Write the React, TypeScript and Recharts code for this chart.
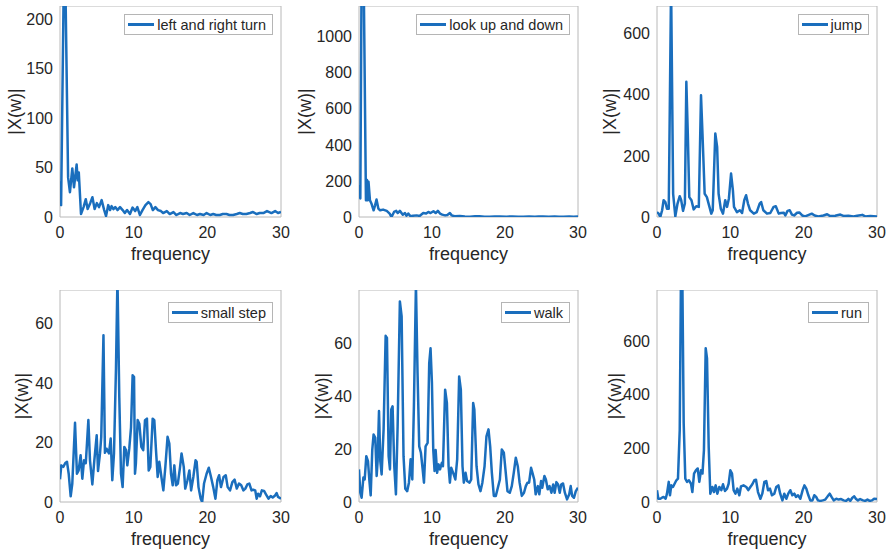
import React from "react";
import { LineChart, Line, XAxis, YAxis, ReferenceArea, Legend } from "recharts";

// spectra, one pair of arrays per activity
const freqTicks = [0, 10, 20, 30];

const turnFreq = [
  0, 0.15, 0.5, 0.75, 1.1, 1.35, 1.67, 1.9, 2.26, 2.4,
  2.55, 2.85, 3.2, 3.5, 3.75, 4.1, 4.4, 4.7, 5.0, 5.3,
  5.65, 6.0, 6.25, 6.55, 6.8, 7.0, 7.25, 7.5, 7.8, 8.15,
  8.5, 8.8, 9.1, 9.5, 9.85, 10.2, 10.5, 10.85, 11.2, 11.6,
  12.0, 12.3, 12.6, 12.95, 13.3, 13.7, 14.0, 14.5, 14.9, 15.4,
  15.8, 16.3, 16.7, 17.2, 17.6, 18.1, 18.6, 19.0, 19.5, 19.9,
  20.4, 20.8, 21.2, 21.7, 22.1, 22.6, 23.0, 23.5, 24.0, 24.4,
  24.8, 25.3, 25.8, 26.2, 26.7, 27.1, 27.6, 28.1, 28.7, 29.2,
  29.6, 30,
];
const turnMag = [
  36, 12, 230, 225, 40, 25, 49, 30, 53, 37,
  45, 3, 10, 18, 8, 14, 20, 8, 14, 10,
  17, 7, 1, 12, 7, 11, 8, 10, 7, 10,
  7, 4, 7, 3, 9.5, 6, 10, 2, 7, 12,
  15, 13, 7, 10, 7, 6, 4, 6, 3, 5,
  2, 4, 3, 4, 2, 4, 2, 3, 2, 4,
  2, 3, 2, 2, 3, 3, 2, 2, 3, 4,
  3, 3, 4, 5, 3, 4, 4, 6, 4, 6,
  4, 5,
];
const turnTicks = [0, 50, 100, 150, 200];

const lookFreq = [
  0, 0.18, 0.35, 0.65, 0.95, 1.1, 1.2, 1.3, 1.5, 1.7,
  2.0, 2.2, 2.4, 2.65, 2.9, 3.3, 3.8, 4.2, 4.45, 4.8,
  5.1, 5.3, 5.6, 6.0, 6.3, 6.5, 6.75, 7.05, 7.4, 7.9,
  8.3, 8.8, 9.2, 9.5, 9.8, 10.2, 10.5, 10.8, 11.1, 11.4,
  11.8, 12.1, 12.45, 12.7, 13.1, 13.8, 14.5, 15.2, 15.9, 16.5,
  17.2, 17.9, 18.6, 19.3, 20.2, 21.0, 21.8, 22.5, 23.3, 24.1,
  24.6, 25.2, 26.0, 26.8, 27.4, 28.0, 28.8, 29.4, 30,
];
const lookMag = [
  178, 103, 1300, 1300, 93, 205, 93, 196, 93, 75,
  37, 65, 97, 47, 37, 41, 34, 19, 0, 28,
  34, 22, 34, 13, 22, 7, 19, 4, 7, 9,
  6, 22, 19, 28, 22, 32, 22, 34, 19, 13,
  9, 11, 22, 9, 4, 6, 3, 2, 4, 4,
  2, 1, 3, 3, 2, 3, 2, 2, 3, 2,
  3, 3, 2, 3, 2, 2, 3, 2, 3,
];
const lookTicks = [0, 200, 400, 600, 800, 1000];

const jumpFreq = [
  0, 0.23, 0.45, 0.7, 0.9, 1.14, 1.36, 1.6, 1.92, 2.2,
  2.5, 2.8, 3.1, 3.3, 3.55, 3.8, 4.0, 4.2, 4.4, 4.7,
  5.0, 5.35, 5.7, 6.0, 6.2, 6.5, 6.8, 7.1, 7.4, 7.6,
  7.95, 8.2, 8.4, 8.7, 9.0, 9.3, 9.55, 9.8, 10.1, 10.35,
  10.5, 10.9, 11.3, 11.6, 11.9, 12.15, 12.4, 12.7, 13.2, 13.6,
  14.0, 14.2, 14.5, 15.0, 15.45, 15.9, 16.2, 16.6, 16.9, 17.3,
  17.5, 17.8, 18.1, 18.4, 18.7, 19.1, 19.4, 19.8, 20.2, 20.7,
  21.1, 21.5, 22.0, 22.7, 23.2, 23.6, 24.3, 25.0, 25.5, 26.1,
  26.8, 27.3, 28.0, 28.4, 29.1, 30,
];
const jumpMag = [
  16, 11, 0, 22, 55, 49, 27, 27, 760, 76,
  2, 44, 68, 55, 20, 44, 442, 273, 65, 55,
  25, 35, 33, 398, 273, 76, 65, 38, 11, 22,
  273, 229, 76, 27, 11, 55, 33, 60, 142, 87,
  33, 16, 22, 13, 55, 71, 44, 22, 11, 16,
  44, 49, 22, 11, 13, 33, 35, 11, 13, 14,
  5, 20, 22, 8, 5, 14, 15, 5, 2, 7,
  11, 5, 2, 5, 9, 3, 4, 8, 3, 4,
  2, 4, 7, 2, 3, 2,
];
const jumpTicks = [0, 200, 400, 600];

const stepFreq = [
  0, 0.18, 0.45, 0.72, 0.95, 1.18, 1.45, 1.67, 2.04, 2.3,
  2.53, 2.8, 3.03, 3.26, 3.5, 3.85, 4.07, 4.39, 4.66, 4.98,
  5.16, 5.43, 5.6, 5.9, 6.1, 6.33, 6.65, 6.88, 7.1, 7.33,
  7.6, 7.8, 8.05, 8.28, 8.5, 8.73, 8.96, 9.14, 9.4, 9.64,
  9.86, 10.05, 10.18, 10.3, 10.54, 10.77, 11.04, 11.3, 11.54, 11.8,
  12.04, 12.26, 12.58, 12.8, 13.03, 13.26, 13.48, 13.8, 14.03, 14.3,
  14.6, 14.84, 15.07, 15.3, 15.52, 15.75, 16.0, 16.3, 16.5, 16.8,
  17.0, 17.3, 17.56, 17.8, 18.1, 18.4, 18.55, 18.8, 19.1, 19.3,
  19.55, 19.9, 20.2, 20.5, 20.8, 21.1, 21.36, 21.6, 21.85, 22.2,
  22.5, 22.76, 23.08, 23.4, 23.7, 24.0, 24.3, 24.6, 24.9, 25.16,
  25.43, 25.7, 26.0, 26.24, 26.5, 26.7, 26.9, 27.15, 27.4, 27.7,
  27.96, 28.3, 28.6, 28.87, 29.2, 29.4, 29.6, 30,
];
const stepMag = [
  7.6, 12.3, 11.8, 13.1, 13.5, 9.5, 1.9, 6.2, 26.6, 9.5,
  10.6, 15.7, 7.8, 14, 13, 27.5, 14, 5.9, 14, 22.4,
  10.4, 16.3, 21.9, 56, 16.5, 17.9, 16.3, 21.3, 7.3, 16.3,
  45, 75, 35, 9.5, 5, 18.5, 17.4, 12.3, 17.9, 25,
  42.6, 42, 9.5, 12.9, 27.5, 26.3, 18.5, 17.4, 27.5, 28,
  10.6, 11.8, 28, 27.5, 17.4, 8.4, 13.5, 7.8, 3.9, 11.8,
  21.9, 19.6, 9.5, 5.6, 12.3, 5.6, 6.2, 11.8, 16.3, 11.8,
  4.5, 7.3, 10.6, 3.9, 8.4, 14, 13.5, 5, 1.1, 0,
  6.2, 9.5, 11.5, 8.4, 5, 1.1, 7.3, 9, 5, 8.4,
  9, 5, 3.9, 6.7, 7.5, 4.5, 6.2, 5.6, 3.9, 4.5,
  5.9, 6.2, 3.9, 4.1, 3.9, 1.1, 2.8, 1.9, 3.9, 3.7,
  2.6, 1.1, 2, 1.5, 2.2, 3, 1.7, 1.1,
];
const stepTicks = [0, 20, 40, 60];

const walkFreq = [
  0, 0.18, 0.36, 0.6, 0.78, 1.0, 1.23, 1.41, 1.6, 1.82,
  2.0, 2.23, 2.42, 2.55, 2.74, 2.92, 3.1, 3.37, 3.65, 3.83,
  4.06, 4.24, 4.42, 4.6, 4.83, 5.06, 5.29, 5.6, 5.84, 6.1,
  6.34, 6.6, 6.84, 7.07, 7.3, 7.52, 7.8, 8.02, 8.25, 8.48,
  8.7, 8.9, 9.12, 9.4, 9.62, 9.8, 9.99, 10.17, 10.35, 10.5,
  10.7, 10.9, 11.1, 11.35, 11.5, 11.8, 12.04, 12.27, 12.45, 12.63,
  12.9, 13.2, 13.45, 13.72, 13.95, 14.18, 14.36, 14.6, 14.8, 15.14,
  15.37, 15.64, 15.8, 16.1, 16.37, 16.64, 16.9, 17.2, 17.46, 17.74,
  17.97, 18.2, 18.47, 18.74, 18.97, 19.3, 19.56, 19.84, 20.06, 20.34,
  20.66, 20.93, 21.2, 21.48, 21.75, 22.0, 22.3, 22.6, 22.85, 23.07,
  23.3, 23.57, 23.76, 24.0, 24.2, 24.5, 24.7, 24.94, 25.1, 25.4,
  25.6, 25.85, 26.1, 26.36, 26.6, 26.8, 27.04, 27.27, 27.5, 27.7,
  27.95, 28.2, 28.5, 28.8, 29.0, 29.2, 29.45, 29.7, 30,
];
const walkMag = [
  12.3, 3.5, 1.6, 9.2, 8.5, 17.3, 15.4, 8.5, 2.5, 19.8,
  25.5, 24.2, 9.8, 15.4, 34.3, 15.4, 10.4, 27.4, 62.7, 61.9,
  17.3, 12.3, 34.9, 36.1, 13.6, 2.9, 28.6, 75.7, 70, 17.3,
  5, 4.1, 7.3, 16.1, 8.5, 36, 82, 48.7, 21, 18.6,
  12.9, 7.3, 21, 22.3, 52.4, 58, 45, 19.8, 11.7, 19.6,
  11, 14.2, 12.3, 14.8, 13.5, 42.4, 37.4, 13.5, 7.3, 12.9,
  11, 8.5, 16.1, 47.4, 42.4, 13.5, 7.3, 11, 7.9, 7.3,
  8.5, 37.4, 34.9, 13.5, 6.6, 4.1, 7.3, 13.5, 24.8, 27.4,
  21, 11, 2.3, 2.3, 4.8, 8.5, 19.8, 18.6, 12.3, 4.1,
  3.5, 6, 11, 16.7, 13.5, 7.3, 2.3, 3.5, 6, 7.3,
  7.3, 12.9, 11, 8.5, 2.9, 6, 2.9, 7.9, 5.4, 9.8,
  8.5, 4.8, 6, 3.5, 6.6, 3.5, 7.5, 6.6, 3.5, 6.6,
  7, 3.5, 1, 2.9, 6, 2.3, 1.6, 4.1, 5.4,
];
const walkTicks = [0, 20, 40, 60];

const runFreq = [
  0, 0.18, 0.45, 0.68, 0.9, 1.18, 1.36, 1.6, 1.77, 1.95,
  2.18, 2.4, 2.64, 2.86, 3.1, 3.27, 3.45, 3.64, 3.86, 4.1,
  4.36, 4.64, 4.82, 5.05, 5.3, 5.55, 5.77, 6.0, 6.2, 6.4,
  6.64, 6.82, 7.05, 7.27, 7.55, 7.77, 8.0, 8.23, 8.5, 8.77,
  9.0, 9.27, 9.55, 9.77, 10.0, 10.23, 10.45, 10.7, 10.95, 11.23,
  11.45, 11.8, 12.18, 12.45, 12.73, 13.0, 13.27, 13.5, 13.77, 14.1,
  14.36, 14.64, 14.9, 15.14, 15.4, 15.68, 16.0, 16.27, 16.55, 16.8,
  17.1, 17.36, 17.64, 17.9, 18.18, 18.45, 18.73, 18.95, 19.23, 19.55,
  19.86, 20.1, 20.36, 20.64, 20.9, 21.2, 21.45, 21.7, 21.95, 22.27,
  22.6, 22.95, 23.27, 23.55, 23.8, 24.1, 24.45, 24.77, 25.1, 25.45,
  25.8, 26.1, 26.36, 26.64, 26.9, 27.14, 27.4, 27.7, 28.1, 28.4,
  28.7, 29.0, 29.3, 29.6, 30,
];
const runMag = [
  44, 12, 12, 16, 19, 12, 31, 75, 25, 62,
  56, 68, 81, 87, 268, 850, 850, 293, 87, 75,
  81, 68, 37, 106, 118, 125, 75, 118, 106, 193,
  573, 535, 205, 31, 56, 37, 62, 31, 56, 44,
  66, 41, 50, 68, 118, 106, 44, 31, 50, 25,
  58, 62, 56, 44, 56, 66, 81, 83, 37, 12,
  31, 75, 78, 44, 50, 25, 31, 56, 62, 31,
  6, 31, 12, 31, 44, 25, 31, 19, 25, 12,
  44, 62, 50, 25, 6, 6, 25, 19, 6, 4,
  6, 9, 21, 31, 19, 6, 12, 9, 11, 6,
  4, 12, 4, 16, 21, 11, 6, 11, 6, 4,
  9, 4, 6, 12, 11,
];
const runTicks = [0, 200, 400, 600];

const BLUE = "#1a6ebd";
const INK = "#262626";
const FONT = "'Liberation Sans', Arial, Helvetica, sans-serif";
const AXIS_W = 72;
const XAXIS_H = 50;

interface PanelProps {
  name: string;
  freq: number[];
  mag: number[];
  yMax: number;
  yTicks: number[];
  left: number;
  top: number;
  plotW: number;
  plotH: number;
  yLabelGap: number;
  legendTop: number;
}

function Panel({ name, freq, mag, yMax, yTicks, left, top, plotW, plotH, yLabelGap, legendTop }: PanelProps) {
  const rows = freq.map((f, i) => ({ f, v: mag[i] }));

  const renderXLabel = () => (
    <text x={AXIS_W + plotW / 2} y={plotH + 37} textAnchor="middle" dominantBaseline="central"
      fontSize={18} fill={INK} fontFamily={FONT}>frequency</text>
  );
  const renderYLabel = () => {
    const cx = AXIS_W - yLabelGap;
    const cy = plotH / 2;
    return (
      <text x={cx} y={cy} transform={`rotate(-90 ${cx} ${cy})`} textAnchor="middle" dominantBaseline="central"
        fontSize={18} fill={INK} fontFamily={FONT}>|X(w)|</text>
    );
  };
  const renderLegend = () => (
    <div style={{ display: "flex", alignItems: "center", border: "1px solid #b5b5b5", background: "#fff",
      padding: "1px 6px 1px 3px", height: 21, boxSizing: "border-box", fontFamily: FONT, fontSize: 14.5, color: INK, whiteSpace: "nowrap" }}>
      <span style={{ display: "inline-block", width: 26, height: 2.5, background: BLUE, marginRight: 3 }} />
      <span>{name}</span>
    </div>
  );

  return (
    <div style={{ position: "absolute", left: left - AXIS_W, top }}>
      <LineChart width={AXIS_W + plotW + 12} height={plotH + XAXIS_H} data={rows}
        margin={{ top: 0, right: 12, bottom: 0, left: 0 }}>
        <XAxis type="number" dataKey="f" domain={[0, 30]} ticks={freqTicks} allowDataOverflow
          axisLine={false} tickLine={false} tickSize={0} tickMargin={10} height={XAXIS_H}
          tick={{ fontSize: 16, fill: INK, fontFamily: FONT }} label={{ content: renderXLabel }} />
        <YAxis type="number" domain={[0, yMax]} ticks={yTicks} allowDataOverflow
          axisLine={false} tickLine={false} tickSize={0} tickMargin={7} width={AXIS_W}
          tick={{ fontSize: 16, fill: INK, fontFamily: FONT }} label={{ content: renderYLabel }} />
        <ReferenceArea x1={0} x2={30} y1={0} y2={yMax} fill="none" stroke="#b8b8b8" strokeWidth={1} />
        <Line type="linear" dataKey="v" stroke={BLUE} strokeWidth={2.5} dot={false}
          isAnimationActive={false} strokeLinejoin="round" />
        <Legend layout="horizontal" verticalAlign="middle" content={renderLegend}
          wrapperStyle={{ top: legendTop, right: 12 + 8, left: "auto", width: "auto" }} />
      </LineChart>
    </div>
  );
}

export default function App() {
  const colLeft = [60, 359, 657];
  const colW = [221, 219, 220];
  const rowTop = [6, 290];
  const rowH = [211, 212];

  return (
    <div style={{ position: "absolute", left: 0, top: 0, width: 890, height: 552, background: "#fff", overflow: "hidden" }}>
      <Panel name="left and right turn" freq={turnFreq} mag={turnMag} yMax={213} yTicks={turnTicks}
        left={colLeft[0]} top={rowTop[0]} plotW={colW[0]} plotH={rowH[0]} yLabelGap={45} legendTop={8} />
      <Panel name="look up and down" freq={lookFreq} mag={lookMag} yMax={1170} yTicks={lookTicks}
        left={colLeft[1]} top={rowTop[0]} plotW={colW[1]} plotH={rowH[0]} yLabelGap={54} legendTop={8} />
      <Panel name="jump" freq={jumpFreq} mag={jumpMag} yMax={690} yTicks={jumpTicks}
        left={colLeft[2]} top={rowTop[0]} plotW={colW[2]} plotH={rowH[0]} yLabelGap={47} legendTop={8} />
      <Panel name="small step" freq={stepFreq} mag={stepMag} yMax={71.2} yTicks={stepTicks}
        left={colLeft[0]} top={rowTop[1]} plotW={colW[0]} plotH={rowH[1]} yLabelGap={38} legendTop={12} />
      <Panel name="walk" freq={walkFreq} mag={walkMag} yMax={80} yTicks={walkTicks}
        left={colLeft[1]} top={rowTop[1]} plotW={colW[1]} plotH={rowH[1]} yLabelGap={37} legendTop={12} />
      <Panel name="run" freq={runFreq} mag={runMag} yMax={790} yTicks={runTicks}
        left={colLeft[2]} top={rowTop[1]} plotW={colW[2]} plotH={rowH[1]} yLabelGap={42} legendTop={12} />
    </div>
  );
}
